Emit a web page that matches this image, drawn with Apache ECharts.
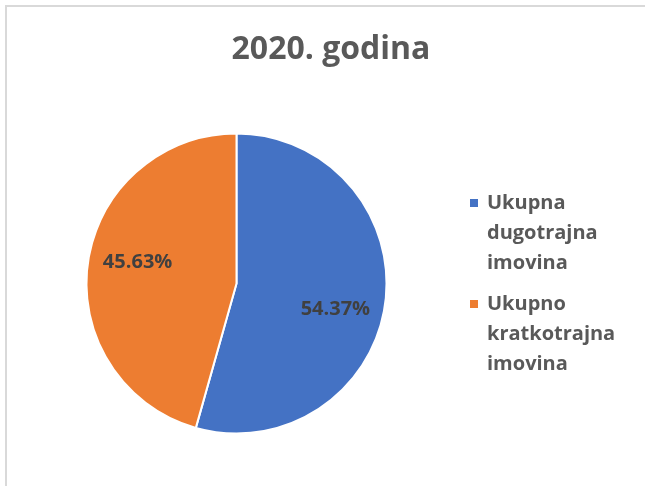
<!DOCTYPE html>
<html>
<head>
<meta charset="utf-8">
<script src="https://cdn.jsdelivr.net/npm/echarts@6/dist/echarts.min.js"></script>
<style>
  html, body { margin: 0; padding: 0; background: #fff; }
  #chart { width: 645px; height: 486px; }
</style>
</head>
<body>
<div id="chart"></div>
<script>
// podaci
var titleText = '2020. godina';
var categories = ['Ukupna\ndugotrajna\nimovina', 'Ukupno\nkratkotrajna\nimovina'];
var values = [54.37, 45.63];
var colors = ['#4472C4', '#ED7D31'];

var cx = 236.5, cy = 283.5; // sredina pite
var extraDy = [12, -8]; // Excel "best fit" pomak

var myChart = echarts.init(document.getElementById('chart'));
var option = {
  backgroundColor: '#fff',
  color: colors,
  graphic: [{
    type: 'rect',
    silent: true,
    shape: { x: 6, y: 6, width: 700, height: 600 },
    style: { fill: 'none', stroke: '#d9d9d9', lineWidth: 2 }
  }],
  title: {
    text: titleText,
    left: 331,
    top: 34,
    padding: 0,
    textAlign: 'center',
    textStyle: {
      fontFamily: 'Open Sans',
      fontSize: 32,
      fontWeight: 'bold',
      color: '#595959'
    }
  },
  legend: {
    orient: 'vertical',
    left: 470,
    top: 188,
    padding: 0,
    itemGap: 11,
    itemWidth: 12,
    itemHeight: 90,
    // kvadratic poravnat s prvim redom teksta
    icon: 'path://M0,0L12,0Z M0,11L8,11L8,19L0,19Z M0,90L12,90Z',
    itemStyle: { borderWidth: 0 },
    selectedMode: false,
    textStyle: {
      fontFamily: 'Open Sans',
      fontSize: 20,
      fontWeight: 'bold',
      color: '#595959',
      lineHeight: 30
    },
    data: categories
  },
  series: [{
    type: 'pie',
    center: [cx, cy],
    radius: 150,
    startAngle: 90,
    clockwise: true,
    avoidLabelOverlap: false,
    itemStyle: { borderColor: '#fff', borderWidth: 2 },
    label: {
      show: true,
      position: 'inside',
      formatter: '{d}%',
      fontFamily: 'Open Sans',
      fontSize: 20,
      fontWeight: 'bold',
      color: '#404040',
      textBorderWidth: 0
    },
    labelLine: { show: false },
    emphasis: { disabled: true },
    labelLayout: function (params) {
      var r = params.labelRect;
      var lx = r.x + r.width / 2;
      var ly = r.y + r.height / 2;
      return {
        dx: (lx - cx) * 0.28,
        dy: (ly - cy) * 0.28 + extraDy[params.dataIndex]
      };
    },
    data: categories.map(function (name, i) {
      return { name: name, value: values[i] };
    })
  }]
};
myChart.setOption(option);
</script>
</body>
</html>
